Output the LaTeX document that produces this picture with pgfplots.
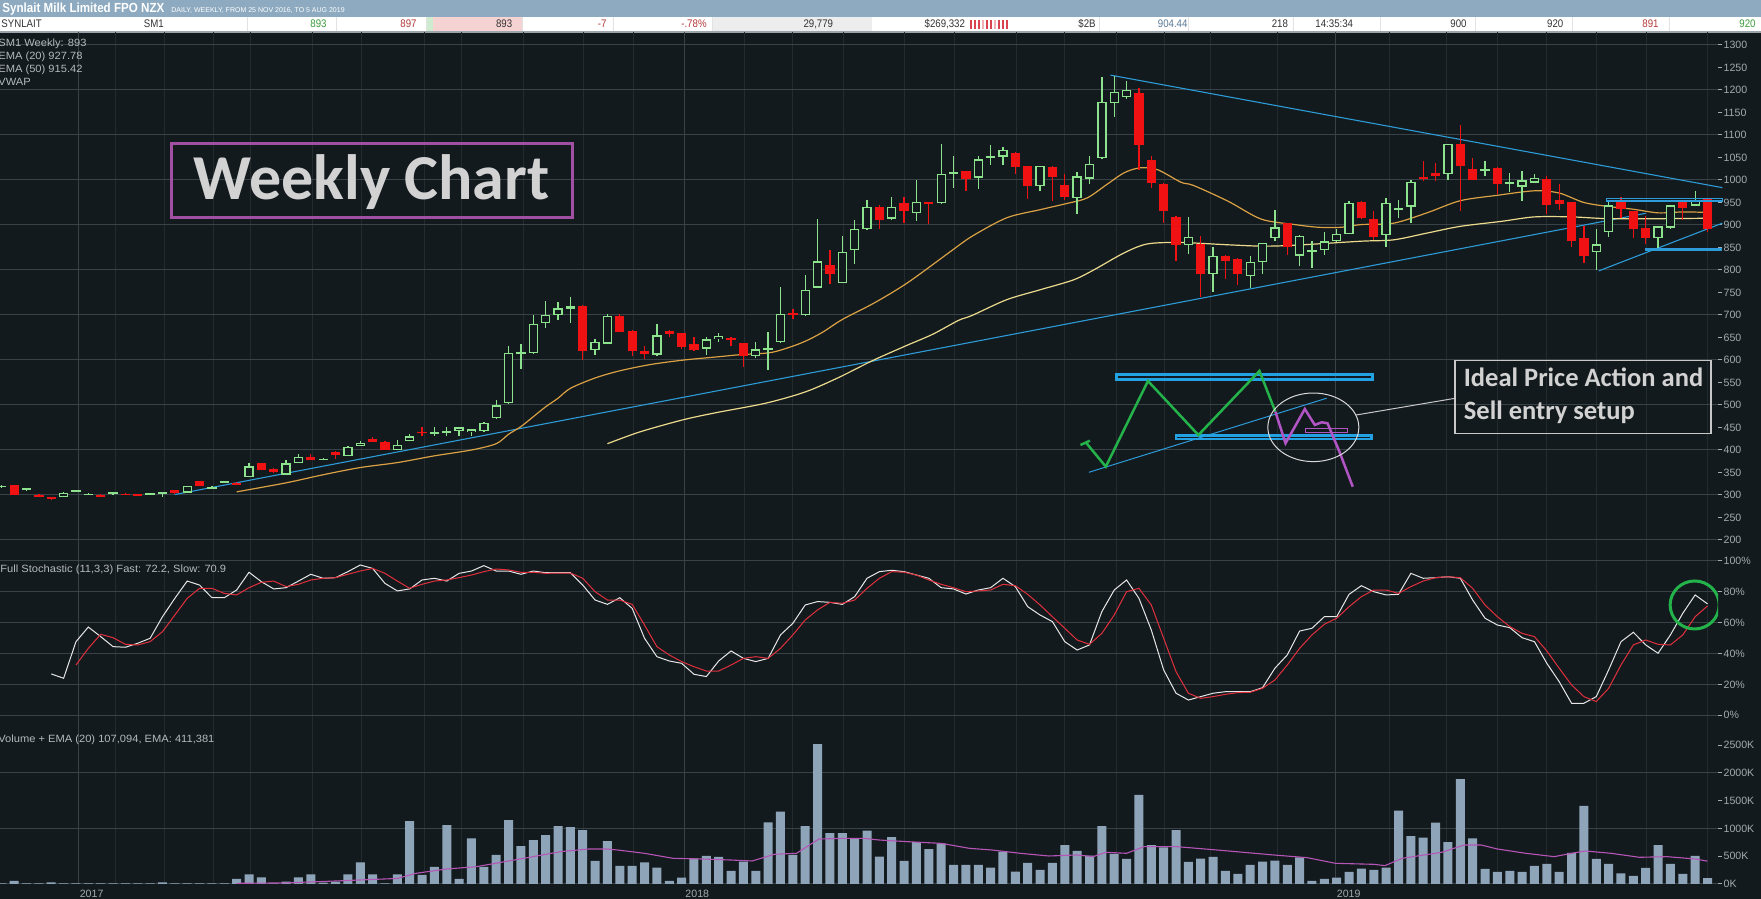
\documentclass[border=0pt]{standalone}
\usepackage{pgfplots}
\pgfplotsset{compat=1.18}
\usepackage{pgfplotstable}
\usepackage{fontspec}
\setmainfont{Liberation Sans}
\newfontfamily\narrow[FakeStretch=0.88]{Liberation Sans}
\newfontfamily\wide[FakeStretch=1.06]{Liberation Sans}
\newfontfamily\calib{Carlito}
\definecolor{cBg}{HTML}{131A1E}
\definecolor{cHead}{HTML}{8DAAC0}
\definecolor{cGrid}{HTML}{394246}
\definecolor{cGridMinor}{HTML}{232B2F}
\definecolor{cTick}{HTML}{A3ABAF}
\definecolor{cUp}{HTML}{8DE38D}
\definecolor{cDn}{HTML}{F01212}
\definecolor{cEma20}{HTML}{D9A143}
\definecolor{cEma50}{HTML}{EBD98C}
\definecolor{cTrend}{HTML}{2C9BD8}
\definecolor{cFast}{HTML}{E6E6E6}
\definecolor{cSlow}{HTML}{E0303C}
\definecolor{cVol}{HTML}{8EA5B9}
\definecolor{cVolEma}{HTML}{B655B6}
\definecolor{cCyan}{HTML}{22A2E2}
\definecolor{cGreenA}{HTML}{24B24A}
\definecolor{cPurple}{HTML}{B255C4}
\definecolor{cTitleBox}{HTML}{A04FA3}
\definecolor{cTitleTxt}{HTML}{D2D2D2}
\definecolor{cLeg}{HTML}{B4B9BC}
\definecolor{cPink}{HTML}{F6D3D3}
\definecolor{cLGreen}{HTML}{CFEBCF}
\definecolor{cLGray}{HTML}{EDEDED}
\definecolor{cBarR}{HTML}{D9434F}
\definecolor{cBarP}{HTML}{F0B0B8}
\definecolor{cSep}{HTML}{E2E2E2}
\definecolor{cRowLine}{HTML}{9AA4AA}
\definecolor{cDark}{HTML}{333333}
\definecolor{cGrn}{HTML}{3A9A3A}
\definecolor{cRed}{HTML}{B43A3A}
\definecolor{cBlueG}{HTML}{5A7896}
\definecolor{cEll}{HTML}{D8D8D8}
\definecolor{cBoxG}{HTML}{C8C8C8}

\pgfplotstableread{
i O H L C
0 317 323 315 321
2 310 316 309 315
5 296 306 295 305
6 308 312 307 311
7 300 304 299 303
9 302 307 301 306
12 300 305 299 304
13 303 307 296 306
15 305 321 304 320
17 314 319 313 318
18 328 332 327 331
20 340 370 339 364
23 345 377 344 370
24 371 391 370 385
26 378 382 377 381
28 387 408 386 407
29 409 421 408 416
32 400 422 399 412
33 420 436 419 430
35 436 450 430 441
36 439 450 431 442
37 442 452 431 450
38 440 447 431 446
39 442 462 441 461
40 470 512 469 499
41 504 630 503 616
42 614 636 579 618
43 615 700 613 680
44 682 732 671 700
45 700 729 688 715
46 714 740 683 719
48 622 646 610 640
49 636 702 635 698
53 612 680 609 655
57 625 652 610 646
58 646 661 641 653
61 609 641 604 624
62 623 663 578 626
63 639 763 637 702
65 699 789 698 756
66 761 913 760 819
68 771 876 770 840
69 844 911 814 891
70 890 955 889 941
72 914 962 910 941
74 926 999 909 951
76 948 1080 946 1014
77 1013 1053 983 1017
79 1005 1053 980 1046
80 1050 1078 1034 1053
81 1052 1074 1034 1067
84 986 1032 976 1031
87 960 1017 925 1008
88 1003 1053 991 1036
89 1048 1228 1046 1174
90 1171 1231 1141 1196
91 1184 1220 1179 1201
96 855 917 836 874
98 791 850 750 832
101 787 832 759 818
102 818 861 791 860
103 870 933 864 895
105 832 877 808 876
106 840 864 804 844
107 844 884 833 864
108 864 890 863 880
109 880 953 879 949
112 878 960 851 949
113 933 956 916 937
114 941 1001 904 996
117 1013 1081 1001 1080
120 1021 1043 1008 1024
122 990 1016 974 995
123 985 1019 954 999
124 994 1013 993 1004
129 839 890 799 857
130 884 952 874 944
134 870 898 848 897
135 894 945 890 944
137 943 976 942 956
}\upc

\pgfplotstableread{
i O H L C
1 322 323 299 300
3 301 302 295 296
4 295 296 288 290
8 301 302 295 296
10 303 304 299 300
11 302 303 298 299
14 310 311 303 304
16 330 331 319 320
19 327 328 322 323
21 370 371 355 356
22 357 360 349 350
25 385 390 377 378
27 396 397 381 388
30 424 429 417 418
31 418 419 399 400
34 441 450 431 438
47 720 722 600 619
50 698 703 662 663
51 665 666 609 619
52 621 631 602 614
54 665 666 650 658
55 660 661 625 628
56 636 650 620 623
59 648 652 630 645
60 637 638 584 609
64 705 713 691 700
67 811 845 769 791
71 941 945 890 912
73 949 962 905 930
75 951 951 902 948
78 1019 1020 976 1003
82 1061 1062 1013 1029
83 1030 1031 957 986
85 1029 1032 953 1006
86 988 1014 955 962
92 1193 1204 1023 1078
93 1044 1054 983 994
94 992 993 905 931
95 918 919 819 856
97 858 876 740 790
99 832 833 779 819
100 825 826 767 790
104 904 905 834 850
110 952 953 914 915
111 914 930 867 874
115 1007 1043 997 1004
116 1016 1038 997 1008
118 1080 1123 930 1030
119 1025 1049 1000 1001
121 1027 1028 969 990
125 1002 1009 924 944
126 956 991 933 947
127 950 951 850 865
128 870 898 815 831
131 951 963 915 936
132 931 932 870 892
133 893 919 858 870
136 951 952 911 938
138 959 960 885 891
}\dnc

\pgfplotstableread{
i V
0 12
1 54
2 12
3 12
4 30
5 12
6 12
7 12
8 12
9 12
10 12
11 12
12 12
13 30
14 12
15 12
16 12
17 12
18 12
19 90
20 174
21 120
22 12
23 42
24 120
25 174
26 24
27 42
28 174
29 390
30 174
31 12
32 174
33 1133
34 162
35 306
36 1061
37 90
38 821
39 306
40 522
41 1151
42 683
43 791
44 881
45 1043
46 1025
47 971
48 414
49 773
50 324
51 324
52 390
53 294
54 54
55 114
56 462
57 504
58 486
59 234
60 402
61 234
62 1109
63 1301
64 522
65 1043
66 2518
67 917
68 917
69 809
70 959
71 492
72 845
73 414
74 755
75 629
76 731
77 342
78 342
79 342
80 294
81 582
82 222
83 378
84 252
85 378
86 701
87 594
88 510
89 1043
90 540
91 450
92 1601
93 701
94 659
95 971
96 396
97 456
98 486
99 234
100 180
101 342
102 402
103 420
104 342
105 480
106 54
107 90
108 114
109 216
110 276
111 252
112 294
113 1319
114 863
115 833
116 1103
117 755
118 1888
119 821
120 270
121 216
122 234
123 216
124 324
125 360
126 216
127 558
128 1403
129 450
130 360
131 192
132 144
133 288
134 701
135 360
136 180
137 504
138 107
}\vol

\pgfplotsset{
  panel/.style={
    scale only axis, width=859pt, xmin=-0.146, xmax=138.85,
    anchor=south west,
    axis line style={draw=none},
    xtick={6.2,55.2,107.9}, xticklabels={},
    minor xtick={9.2,13.2,17.1,20.1,25.1,29.1,34.2,37.2,42.2,47.1,51.1,60.1,64.0,68.1,73.0,77.1,82.1,86.0,90.2,94.1,97.8,103.2,112.3,116.9,121.0,125.0,129.0,133.1,138},
    xmajorgrids, xminorgrids, ymajorgrids,
    major grid style={draw=cGrid, line width=0.5pt},
    minor grid style={draw=cGridMinor, line width=0.5pt},
    xtick style={draw=none}, minor tick length=0pt,
    ytick pos=right, yticklabel pos=right, tick align=outside,
    major tick length=2.2pt,
    ytick style={draw=cTick, line width=0.5pt},
    yticklabel style={font=\fontsize{5.3}{6}\selectfont, text=cTick, inner sep=0.4pt},
    xticklabel style={font=\fontsize{5.3}{6}\selectfont, text=cTick, inner sep=0pt, anchor=north west, xshift=0.5pt, yshift=-0.4pt},
  },
  boxline/.style={line cap=rect, line join=miter},
}

\begin{document}
\begin{tikzpicture}[x=0.5pt,y=0.5pt]
\useasboundingbox (0,0) rectangle (1761,899);
\fill[cBg] (0,0) rectangle (1761,899);
% header
\fill[cHead] (0,882) rectangle (1761,899);
\fill[white] (0,867) rectangle (1761,882);
\fill[cPink] (433,867) rectangle (522,882);
\fill[cLGreen] (426,867) rectangle (433,882);
\fill[cLGray] (712,867) rectangle (872,882);
\foreach \xx in {970,974,978,986,990,998,1002,1006}{\fill[cBarR] (\xx,870) rectangle (\xx+2.2,879);}
\foreach \xx in {982,994}{\fill[cBarP] (\xx,870) rectangle (\xx+2.2,879);}
\foreach \xx in {247,336,426,522,613,712,1099,1188,1293,1380,1475,1572,1669}{\draw[cSep, line width=0.4pt] (\xx,867) -- (\xx,882);}
\draw[cRowLine, line width=0.6pt] (0,867) -- (1761,867);
\node[anchor=base west, inner sep=0pt, text=white, font=\narrow\bfseries\fontsize{6.6}{7}\selectfont] at (2,886) {Synlait Milk Limited FPO NZX};
\node[anchor=base west, inner sep=0pt, text=white, font=\fontsize{3.5}{4}\selectfont] at (171,886.5) {DAILY, WEEKLY, FROM 25 NOV 2016, TO 5 AUG 2019};
\begin{scope}[every node/.style={inner sep=0pt, font=\narrow\fontsize{5.5}{6}\selectfont}]
\node[anchor=base west, text=cDark] at (1,871) {SYNLAIT};
\node[anchor=base west, text=cDark] at (143.5,871) {SM1};
\node[anchor=base east, text=cGrn] at (327,871) {893};
\node[anchor=base east, text=cRed] at (417,871) {897};
\node[anchor=base east, text=cDark] at (512.6,871) {893};
\node[anchor=base east, text=cRed] at (606.8,871) {-7};
\node[anchor=base east, text=cRed] at (707,871) {-.78\%};
\node[anchor=base east, text=cDark] at (833.5,871) {29,779};
\node[anchor=base east, text=cDark] at (965.4,871) {\$269,332};
\node[anchor=base east, text=cDark] at (1096,871) {\$2B};
\node[anchor=base east, text=cBlueG] at (1187.9,871) {904.44};
\node[anchor=base east, text=cDark] at (1288.4,871) {218};
\node[anchor=base west, text=cDark] at (1315,871) {14:35:34};
\node[anchor=base east, text=cDark] at (1467,871) {900};
\node[anchor=base east, text=cDark] at (1563.7,871) {920};
\node[anchor=base east, text=cRed] at (1659,871) {891};
\node[anchor=base east, text=cGrn] at (1756,871) {920};
\end{scope}

% ---------------- price panel
\begin{axis}[panel, at={(0pt,175pt)}, height=258.5pt, clip=false,
  ymin=180, ymax=1328.9,
  ytick={200,300,400,500,600,700,800,900,1000,1100,1200,1300},
  yticklabels={200,300,400,500,600,700,800,900,1000,1100,1200,1300},
  extra y ticks={250,350,450,550,650,750,850,950,1050,1150,1250},
  extra y tick labels={250,350,450,550,650,750,850,950,1050,1150,1250},
  extra y tick style={grid=none}]
% trend lines
\addplot[cTrend, line width=0.55pt] coordinates {(14,301) (133,926)};
\addplot[cTrend, line width=0.55pt] coordinates {(89.7,1233) (139.2,983)};
\addplot[cTrend, line width=0.55pt] coordinates {(129.2,798) (139.2,904)};
% EMA lines
\addplot[cEma50, line width=0.6pt, smooth] coordinates {(49,414)(51.6,440)(55.1,467)(57.8,483)(61.8,504)(65,529)(67.7,561)(70.4,598)(73.1,631)(75.3,657)(77.4,688)(78.5,699)(81.3,734)(84,756)(86.7,778)(88.4,801)(90.8,838)(92.7,858)(95.4,861)(99.2,856)(102,853)(104.6,855)(110,864)(112.6,867)(115.3,882)(118,897)(121.3,908)(124,918)(127,918)(130,914)(134,914)(138,915)};
\addplot[cEma20, line width=0.6pt, smooth] coordinates {(19,307)(23,327)(26,345)(29,361)(32,372)(35,387)(38,400)(40,414)(41,435)(42,452)(43,474)(44,496)(45,515)(46,537)(48,560)(50,576)(52.5,590)(55.2,600)(57.9,607)(59.8,612)(62.3,617)(64.6,637)(66.3,660)(68,690)(70.6,727)(73.3,772)(76.8,842)(78.5,875)(81.3,916)(84,934)(86.2,948)(87.8,960)(89.4,990)(90.8,1016)(92.1,1027)(93.5,1023)(95.4,995)(96.4,988)(99.2,953)(101.9,913)(104.6,901)(106.5,895)(108.4,895)(110,901)(112.6,904)(115.3,927)(118,954)(121,966)(124,976)(126,971)(128,950)(130,941)(132,935)(134,927)(136,929)(138,928)};
% candles: wicks
\addplot[draw=none, forget plot, error bars/.cd, y dir=both, y explicit, error mark=none,
  error bar style={draw=cUp, line width=0.65pt}]
  table[x=i, y expr={(\thisrow{H}+\thisrow{L})/2}, y error expr={(\thisrow{H}-\thisrow{L})/2}] {\upc};
\addplot[draw=none, forget plot, error bars/.cd, y dir=both, y explicit, error mark=none,
  error bar style={draw=cDn, line width=0.65pt}]
  table[x=i, y expr={(\thisrow{H}+\thisrow{L})/2}, y error expr={(\thisrow{H}-\thisrow{L})/2}] {\dnc};
% bodies
\addplot[draw=none, forget plot, error bars/.cd, y dir=both, y explicit, error mark=none,
  error bar style={draw=cUp, line width=4.65pt}]
  table[x=i, y expr={(\thisrow{O}+\thisrow{C})/2}, y error expr={(\thisrow{C}-\thisrow{O})/2}] {\upc};
\addplot[draw=none, forget plot, error bars/.cd, y dir=both, y explicit, error mark=none,
  error bar style={draw=cBg, line width=3.35pt}]
  table[x=i, y expr={(\thisrow{O}+\thisrow{C})/2}, y error expr={max((\thisrow{C}-\thisrow{O})/2-2.9,0)}] {\upc};
\addplot[draw=none, forget plot, error bars/.cd, y dir=both, y explicit, error mark=none,
  error bar style={draw=cDn, line width=4.65pt}]
  table[x=i, y expr={(\thisrow{O}+\thisrow{C})/2}, y error expr={(\thisrow{O}-\thisrow{C})/2}] {\dnc};
% boxes on the right
\addplot[cTrend, boxline, line width=0.6pt] coordinates {(129.8,953.3)(139.2,953.3)(139.2,959.3)(129.8,959.3)(129.8,953.3)};
\addplot[cTrend, boxline, line width=0.75pt] coordinates {(133.0,844.0)(139.1,844.0)(139.1,847.1)(133.0,847.1)(133.0,844.0)};
% ideal price action sketch
\addplot[cTrend, line width=0.5pt] coordinates {(87.95,350.4) (107.19,515.1)};
\addplot[cCyan, boxline, line width=1.2pt] coordinates {(90.2,556.7)(110.9,556.7)(110.9,567.8)(90.2,567.8)(90.2,556.7)};
\addplot[cCyan, boxline, line width=1.2pt] coordinates {(95.0,424.2)(110.8,424.2)(110.8,432.2)(95.0,432.2)(95.0,424.2)};
\addplot[cGreenA, line width=1.25pt] coordinates {(87.27,411.1)(88.03,420.7)};
\addplot[cGreenA, line width=1.25pt] coordinates {(87.72,416.2)(89.32,362.9)(92.73,553.3)(96.81,433.3)(101.75,575.6)(103.04,485.1)};
\addplot[cPurple, line width=1.25pt] coordinates {(103.04,485.1)(103.86,414.9)(105.42,491.1)(106.23,455.6)(106.79,461.6)(107.26,459.3)(108.22,396.2)(109.30,318.4)};
\addplot[cPurple, boxline, line width=0.5pt] coordinates {(105.49,439.3)(108.9,439.3)(108.9,448.2)(105.49,448.2)(105.49,439.3)};
\draw[cEll, line width=0.5pt] (axis cs:106.11,450.4) ellipse [x radius=22.75pt, y radius=17.15pt];
\end{axis}

% ---------------- stochastic panel
\begin{axis}[panel, at={(0pt,86pt)}, height=89pt,
  ymin=-7.58, ymax=107.78,
  ytick={0,20,40,60,80,100},
  yticklabels={0\%,20\%,40\%,60\%,80\%,100\%}]
\addplot[cFast, line width=0.5pt] coordinates {(4,26.8)(5,24.0)(6,47.7)(7,57.2)(8,51.0)(9,44.5)(10,44.1)(11,46.7)(12,49.9)(13,63.9)(14,75.8)(15,87.0)(16,84.4)(17,76.2)(18,76.2)(19,81.2)(20,92.7)(21,86.6)(22,81.9)(23,82.7)(24,87.0)(25,91.4)(26,88.8)(27,89.2)(28,93.1)(29,97.4)(30,95.2)(31,85.5)(32,80.6)(33,81.9)(34,87.7)(35,88.8)(36,87.0)(37,92.0)(38,93.5)(39,97.0)(40,93.5)(41,93.5)(42,91.4)(43,93.5)(44,92.4)(45,92.4)(46,92.4)(47,84.4)(48,74.7)(49,71.9)(50,76.2)(51,69.3)(52,49.9)(53,38.0)(54,35.2)(55,33.7)(56,26.6)(57,25.1)(58,35.2)(59,41.7)(60,36.9)(61,34.8)(62,36.9)(63,52.1)(64,59.6)(65,71.5)(66,73.7)(67,73.2)(68,71.9)(69,76.9)(70,88.8)(71,93.1)(72,94.0)(73,93.1)(74,90.9)(75,88.8)(76,82.7)(77,81.9)(78,78.6)(79,81.2)(80,82.7)(81,88.8)(82,83.4)(83,70.4)(84,65.0)(85,60.7)(86,47.7)(87,42.3)(88,45.6)(89,67.2)(90,81.2)(91,87.7)(92,75.8)(93,55.3)(94,29.4)(95,14.3)(96,9.9)(97,12.1)(98,14.3)(99,15.3)(100,15.3)(101,15.3)(102,17.9)(103,30.5)(104,39.1)(105,54.6)(106,56.4)(107,63.9)(108,63.9)(109,78.4)(110,84.0)(111,80.1)(112,78.0)(113,78.4)(114,92.0)(115,88.8)(116,89.2)(117,89.8)(118,88.8)(119,74.7)(120,62.9)(121,58.5)(122,56.8)(123,50.3)(124,47.7)(125,33.7)(126,21.8)(127,7.8)(128,7.8)(129,12.1)(130,29.4)(131,47.7)(132,53.8)(133,45.6)(134,40.2)(135,52.1)(136,66.1)(137,78.0)(138,72.2)};
\addplot[cSlow, line width=0.5pt] coordinates {(6,32.6)(7,43.4)(8,52.5)(9,50.3)(10,46.0)(11,45.6)(12,47.7)(13,54.2)(14,65.0)(15,75.8)(16,82.3)(17,82.3)(18,79.0)(19,78.0)(20,82.7)(21,86.2)(22,87.0)(23,83.4)(24,84.9)(25,87.7)(26,88.8)(27,89.2)(28,91.4)(29,93.5)(30,95.2)(31,92.0)(32,87.0)(33,82.3)(34,84.9)(35,87.0)(36,87.7)(37,89.2)(38,90.9)(39,93.1)(40,94.8)(41,94.2)(42,92.7)(43,92.7)(44,92.0)(45,92.2)(46,92.2)(47,88.8)(48,80.1)(49,74.7)(50,74.7)(51,71.9)(52,58.5)(53,44.5)(54,39.1)(55,34.8)(56,31.5)(57,28.7)(58,28.7)(59,32.6)(60,36.9)(61,38.0)(62,36.9)(63,43.4)(64,52.1)(65,61.8)(66,68.3)(67,73.2)(68,72.6)(69,74.7)(70,82.3)(71,88.8)(72,93.1)(73,92.7)(74,90.9)(75,87.7)(76,84.9)(77,82.7)(78,80.1)(79,80.6)(80,81.2)(81,84.9)(82,84.0)(83,78.4)(84,71.5)(85,63.9)(86,56.4)(87,48.8)(88,46.0)(89,53.1)(90,65.0)(91,80.1)(92,82.3)(93,71.5)(94,49.9)(95,28.3)(96,14.3)(97,11.0)(98,12.1)(99,13.6)(100,14.7)(101,14.9)(102,17.5)(103,22.9)(104,32.6)(105,43.4)(106,52.1)(107,59.0)(108,62.9)(109,70.4)(110,76.9)(111,81.2)(112,81.2)(113,79.0)(114,83.4)(115,87.0)(116,89.2)(117,89.8)(118,89.2)(119,82.3)(120,71.5)(121,63.9)(122,57.5)(123,53.1)(124,51.0)(125,41.7)(126,30.5)(127,19.7)(128,12.1)(129,8.9)(130,17.5)(131,32.6)(132,45.6)(133,48.8)(134,46.0)(135,45.6)(136,52.1)(137,63.9)(138,70.9)};
\draw[cGreenA, line width=1.5pt] (axis cs:136.96,71.5) ellipse [x radius=12.25pt, y radius=12pt];
\end{axis}

% ---------------- volume panel
\begin{axis}[panel, at={(0pt,7.5pt)}, height=78.5pt,
  ymin=0, ymax=2824,
  ytick={0,1000,2000}, yticklabels={0K,1000K,2000K},
  extra y ticks={500,1500,2500}, extra y tick labels={500K,1500K,2500K},
  extra y tick style={grid=none},
  xticklabels={2017,2018,2019}]
\addplot[ybar, bar width=4.5pt, fill=cVol, draw=none] table[x=i, y=V] {\vol};
\addplot[cVolEma, line width=0.55pt] coordinates {(19,12)(23,20)(27,54)(32,100)(33.5,192)(36,270)(38.4,312)(40.7,402)(43,492)(45.2,582)(47.5,630)(48.9,630)(49.8,612)(52,552)(54.3,462)(56.6,450)(58.9,432)(60.7,414)(62.5,534)(64.3,552)(66.1,809)(68,821)(69.8,821)(71,791)(73.3,761)(76,731)(78.3,641)(80.1,612)(82.4,552)(84.7,504)(87,522)(88.3,492)(89.3,570)(91,552)(92.4,671)(95.1,671)(98.3,612)(102.9,522)(105.6,474)(107.9,372)(111,354)(111.9,330)(113.3,462)(116.5,570)(118.3,701)(119.7,701)(121,630)(123.3,552)(125.6,492)(127,552)(128.1,594)(130.2,552)(132.5,480)(134.7,492)(137,450)(138,411)};
\end{axis}

% ---------------- panel legends
\begin{scope}[every node/.style={inner sep=0pt, anchor=base west, text=cLeg, font=\wide\fontsize{5.25}{6}\selectfont}]
\node at (-2,899-46.4) {SM1 Weekly: 893};
\node at (-2,899-59.4) {EMA (20) 927.78};
\node at (-2,899-73.0) {EMA (50) 915.42};
\node at (-2,899-86.0) {VWAP};
\node at (0,899-572.5) {Full Stochastic (11,3,3) Fast: 72.2, Slow: 70.9};
\node at (-2,899-742.5) {Volume + EMA (20) 107,094, EMA: 411,381};
\end{scope}

% ---------------- annotations
\draw[cTitleBox, line width=1.5pt] (171,681) rectangle (572.5,755.3);
\node[anchor=base, inner sep=0pt, text=cTitleTxt, font=\calib\bfseries\fontsize{32}{32}\selectfont] at (371.5,699) {Weekly Chart};
\draw[cBoxG, line width=0.5pt] (1356.2,899-415) -- (1455.1,899-398.3);
\draw[cBoxG, line width=0.65pt] (1455.1,899-433.3) rectangle (1711,899-360.7);
\node[anchor=base west, inner sep=0pt, text=cTitleTxt, font=\calib\bfseries\fontsize{13.25}{14}\selectfont] at (1463.5,899-386.7) {Ideal Price Action and};
\node[anchor=base west, inner sep=0pt, text=cTitleTxt, font=\calib\bfseries\fontsize{13.25}{14}\selectfont] at (1463.5,899-420) {Sell entry setup};
\end{tikzpicture}
\end{document}
